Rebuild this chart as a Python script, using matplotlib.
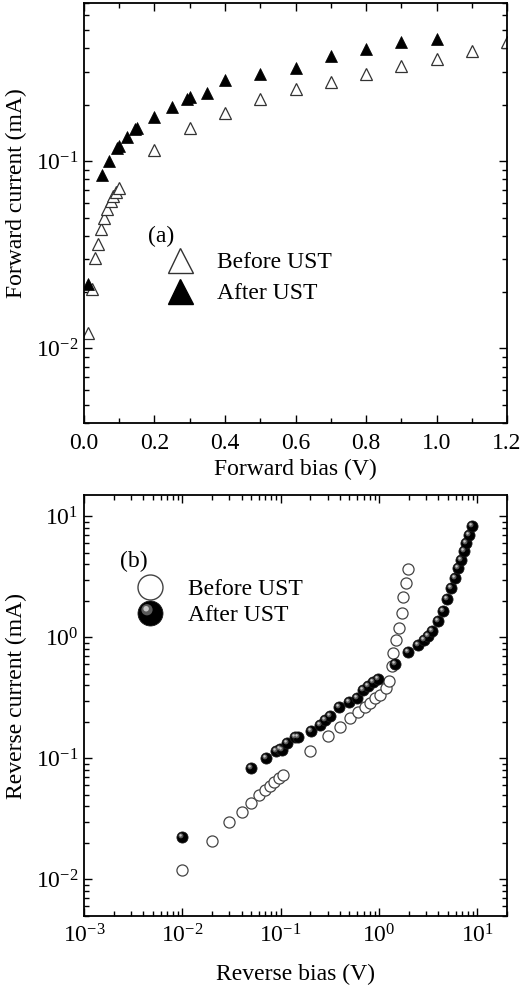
import matplotlib
matplotlib.use("Agg")
import matplotlib.pyplot as plt
from matplotlib.path import Path
from matplotlib.lines import Line2D
from matplotlib.ticker import LogLocator, LogFormatterMathtext, MultipleLocator, NullFormatter, FixedLocator, FixedFormatter

plt.rcParams['font.family'] = ['Liberation Serif', 'DejaVu Serif']
plt.rcParams['mathtext.fontset'] = 'custom'
plt.rcParams['mathtext.rm'] = 'Liberation Serif'
plt.rcParams['mathtext.it'] = 'Liberation Serif:italic'
plt.rcParams['mathtext.default'] = 'regular'

# ---------------- data: panel (a) forward ----------------
fwd_before_v = [0.012, 0.022, 0.031, 0.040, 0.048, 0.057, 0.066, 0.076, 0.083, 0.090, 0.100,
                0.2, 0.3, 0.4, 0.5, 0.6, 0.7, 0.8, 0.9, 1.0, 1.1, 1.2]
fwd_before_i = [0.0121, 0.0209, 0.0305, 0.0360, 0.0437, 0.0500, 0.0559, 0.0613, 0.0652, 0.0687, 0.0723,
                0.1145, 0.151, 0.182, 0.215, 0.243, 0.266, 0.292, 0.321, 0.351, 0.389, 0.434]
fwd_after_v = [0.010, 0.05, 0.071, 0.093, 0.099, 0.121, 0.145, 0.151, 0.2, 0.25, 0.293, 0.3, 0.35,
               0.4, 0.5, 0.6, 0.7, 0.8, 0.9, 1.0]
fwd_after_i = [0.0220, 0.0845, 0.100, 0.117, 0.121, 0.134, 0.148, 0.150, 0.173, 0.194, 0.215, 0.221, 0.231,
               0.270, 0.292, 0.314, 0.366, 0.397, 0.431, 0.449]

# ---------------- data: panel (b) reverse ----------------
rev_before_v = [0.01, 0.02, 0.03, 0.04, 0.05, 0.06, 0.07, 0.077, 0.086, 0.096, 0.105,
                0.2, 0.3, 0.4, 0.51, 0.61, 0.72, 0.81, 0.91, 1.02, 1.17, 1.25, 1.35, 1.40,
                1.49, 1.61, 1.71, 1.77, 1.89, 1.99]
rev_before_i = [0.0119, 0.0206, 0.0299, 0.0361, 0.0429, 0.0497, 0.0547, 0.059, 0.064, 0.0682, 0.0727,
                0.115, 0.154, 0.180, 0.214, 0.243, 0.264, 0.285, 0.314, 0.334, 0.380, 0.439, 0.581, 0.74,
                0.953, 1.19, 1.59, 2.15, 2.81, 3.67]
rev_after_v = [0.01, 0.05, 0.0705, 0.0897, 0.0985, 0.1026, 0.117, 0.14, 0.15, 0.202, 0.248, 0.283, 0.318,
               0.396, 0.489, 0.594, 0.684, 0.78, 0.877, 0.986, 1.46, 1.99, 2.46, 2.83, 3.18, 3.44,
               3.93, 4.45, 4.89, 5.37, 5.94, 6.42, 6.79, 7.22, 7.70, 8.12, 8.80]
rev_after_i = [0.0225, 0.0826, 0.100, 0.115, 0.119, 0.117, 0.133, 0.149, 0.151, 0.169, 0.189, 0.207, 0.224,
               0.267, 0.291, 0.314, 0.367, 0.397, 0.423, 0.451, 0.604, 0.75, 0.867, 0.953, 1.03, 1.13,
               1.37, 1.64, 2.07, 2.55, 3.09, 3.74, 4.38, 5.13, 6.02, 7.06, 8.38]

series_labels = ["Before UST", "After UST"]
panel_a_xticks = [0.0, 0.2, 0.4, 0.6, 0.8, 1.0, 1.2]
panel_a_xticklabels = ["0.0", "0.2", "0.4", "0.6", "0.8", "1.0", "1.2"]

FS = 17


def hl_path(cx, cy, r):
    bounds = Path([(1, 1), (-1, -1)], [Path.MOVETO, Path.MOVETO])
    circ = Path.circle(center=(cx, cy), radius=r)
    return Path.make_compound_path(bounds, circ)


HL1 = hl_path(-0.28, 0.30, 0.45)
HL2 = hl_path(-0.35, 0.38, 0.22)


def sphere_plot(ax, x, y, ms):
    a = ax.plot(x, y, ls='none', marker='o', ms=ms, mfc='black', mec='#1a1a1a', mew=0.6)[0]
    b = ax.plot(x, y, ls='none', marker=HL1, ms=ms, mfc='#5a5a5a', mec='none')[0]
    c = ax.plot(x, y, ls='none', marker=HL2, ms=ms, mfc='#c8c8c8', mec='none')[0]
    return a, b, c


def style_axes(ax):
    for s in ax.spines.values():
        s.set_linewidth(1.3)
    ax.tick_params(which='both', direction='in', top=True, right=True, labelsize=FS, width=1.0)
    ax.tick_params(which='major', length=6)
    ax.tick_params(which='minor', length=3.5)


fig = plt.figure(figsize=(5.21, 9.88), dpi=100)

# ---------------- panel (a) ----------------
ax1 = fig.add_axes([0.1612, 0.5719, 0.812, 0.4251])
ax1.plot(fwd_before_v, fwd_before_i, ls='none', marker='^', ms=8.5, mfc='white', mec='#333333', mew=0.9)
ax1.plot(fwd_after_v, fwd_after_i, ls='none', marker='^', ms=8.5, mfc='black', mec='black', mew=0.5)
ax1.set_yscale('log')
ax1.set_xlim(0.0, 1.2)
ax1.set_ylim(0.004, 0.7)
ax1.xaxis.set_major_locator(FixedLocator(panel_a_xticks))
ax1.xaxis.set_major_formatter(FixedFormatter(panel_a_xticklabels))
ax1.xaxis.set_minor_locator(MultipleLocator(0.1))
ax1.yaxis.set_major_locator(LogLocator(base=10))
ax1.yaxis.set_major_formatter(LogFormatterMathtext())
ax1.yaxis.set_minor_locator(LogLocator(base=10, subs=range(2, 10)))
ax1.yaxis.set_minor_formatter(NullFormatter())
style_axes(ax1)
ax1.tick_params(axis='x', pad=7)
ax1.tick_params(axis='y', pad=4)
ax1.set_xlabel("Forward bias (V)", fontsize=FS)
ax1.set_ylabel("Forward current (mA)", fontsize=FS)
ax1.xaxis.set_label_coords(0.5, -0.085)
ax1.yaxis.set_label_coords(-0.135, 0.548)
ax1.text(0.182, 0.445, "(a)", transform=ax1.transAxes, fontsize=FS, ha='center', va='center')
ha1 = Line2D([], [], ls='none', marker='^', ms=18, mfc='white', mec='#333333', mew=1.0)
ha2 = Line2D([], [], ls='none', marker='^', ms=18, mfc='black', mec='black')
ax1.legend([ha1, ha2], series_labels, loc='upper left', bbox_to_anchor=(0.199, 0.408),
           frameon=False, fontsize=FS, handlelength=1.0, handletextpad=1.05,
           labelspacing=0.4, borderpad=0, borderaxespad=0, numpoints=1)

# ---------------- panel (b) ----------------
ax2 = fig.add_axes([0.1612, 0.0732, 0.812, 0.4258])
ax2.plot(rev_before_v, rev_before_i, ls='none', marker='o', ms=8, mfc='white', mec='#444444', mew=0.9)
sphere_plot(ax2, rev_after_v, rev_after_i, 8)
ax2.set_xscale('log')
ax2.set_yscale('log')
ax2.set_xlim(1e-3, 20)
ax2.set_ylim(0.005, 15)
for axis in (ax2.xaxis, ax2.yaxis):
    axis.set_major_locator(LogLocator(base=10))
    axis.set_major_formatter(LogFormatterMathtext())
    axis.set_minor_locator(LogLocator(base=10, subs=range(2, 10)))
    axis.set_minor_formatter(NullFormatter())
style_axes(ax2)
ax2.tick_params(axis='x', pad=6)
ax2.tick_params(axis='y', pad=4)
ax2.set_xlabel("Reverse bias (V)", fontsize=FS)
ax2.set_ylabel("Reverse current (mA)", fontsize=FS)
ax2.xaxis.set_label_coords(0.5, -0.115)
ax2.yaxis.set_label_coords(-0.135, 0.522)
ax2.text(0.118, 0.843, "(b)", transform=ax2.transAxes, fontsize=FS, ha='center', va='center')
hb1 = Line2D([], [], ls='none', marker='o', ms=18, mfc='white', mec='#444444', mew=1.0)
hb2 = tuple(Line2D([], [], ls='none', marker=m, ms=18, mfc=c, mec=e, mew=0.6)
            for m, c, e in (('o', 'black', '#1a1a1a'), (HL1, '#5a5a5a', 'none'), (HL2, '#c8c8c8', 'none')))
ax2.legend([hb1, hb2], series_labels, loc='upper left', bbox_to_anchor=(0.128, 0.801),
           frameon=False, fontsize=FS, handlelength=1.0, handletextpad=1.1,
           labelspacing=0.17, borderpad=0, borderaxespad=0, numpoints=1)

fig.savefig("out.png", dpi=100)
